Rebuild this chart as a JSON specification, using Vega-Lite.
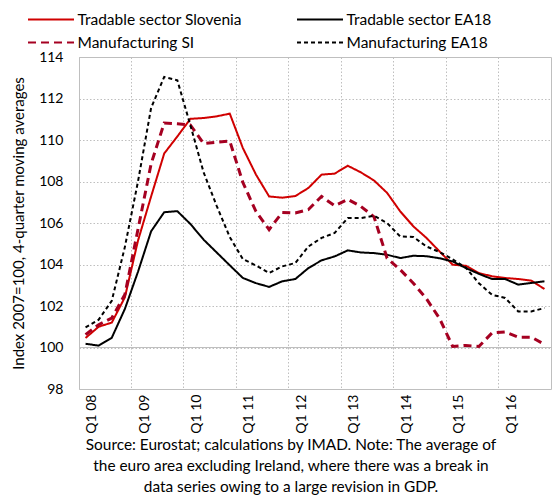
{
  "$schema": "https://vega.github.io/schema/vega-lite/v6.json",
  "width": 472,
  "height": 332,
  "autosize": {"type": "none"},
  "padding": {"left": 79, "top": 57, "right": 1, "bottom": 114},
  "config": {
    "font": "Lato",
    "view": {"stroke": "#bfbfbf", "strokeWidth": 1}
  },
  "title": {
    "text": [
      "Source: Eurostat; calculations by IMAD. Note: The average of",
      "the euro area excluding Ireland, where there was a break in",
      "data series owing to a large revision in GDP."
    ],
    "orient": "bottom",
    "anchor": "middle",
    "dx": -24,
    "offset": 5,
    "font": "Lato",
    "fontSize": 15.4,
    "fontWeight": "normal",
    "lineHeight": 21,
    "color": "#000000"
  },
  "data": {
    "values": [
      {"quarter": "Q1 08", "Tradable sector Slovenia": 100.46, "Tradable sector EA18": 100.18, "Manufacturing SI": 100.62, "Manufacturing EA18": 100.97},
      {"quarter": "Q2 08", "Tradable sector Slovenia": 101.0, "Tradable sector EA18": 100.09, "Manufacturing SI": 101.1, "Manufacturing EA18": 101.34},
      {"quarter": "Q3 08", "Tradable sector Slovenia": 101.2, "Tradable sector EA18": 100.47, "Manufacturing SI": 101.42, "Manufacturing EA18": 102.25},
      {"quarter": "Q4 08", "Tradable sector Slovenia": 102.42, "Tradable sector EA18": 101.86, "Manufacturing SI": 102.55, "Manufacturing EA18": 104.85},
      {"quarter": "Q1 09", "Tradable sector Slovenia": 105.15, "Tradable sector EA18": 103.65, "Manufacturing SI": 105.7, "Manufacturing EA18": 108.0},
      {"quarter": "Q2 09", "Tradable sector Slovenia": 107.28, "Tradable sector EA18": 105.6, "Manufacturing SI": 108.85, "Manufacturing EA18": 111.55},
      {"quarter": "Q3 09", "Tradable sector Slovenia": 109.35, "Tradable sector EA18": 106.52, "Manufacturing SI": 110.82, "Manufacturing EA18": 113.04},
      {"quarter": "Q4 09", "Tradable sector Slovenia": 110.17, "Tradable sector EA18": 106.57, "Manufacturing SI": 110.78, "Manufacturing EA18": 112.88},
      {"quarter": "Q1 10", "Tradable sector Slovenia": 111.02, "Tradable sector EA18": 105.95, "Manufacturing SI": 110.72, "Manufacturing EA18": 110.7},
      {"quarter": "Q2 10", "Tradable sector Slovenia": 111.06, "Tradable sector EA18": 105.2, "Manufacturing SI": 109.83, "Manufacturing EA18": 108.45},
      {"quarter": "Q3 10", "Tradable sector Slovenia": 111.14, "Tradable sector EA18": 104.58, "Manufacturing SI": 109.89, "Manufacturing EA18": 106.83},
      {"quarter": "Q4 10", "Tradable sector Slovenia": 111.27, "Tradable sector EA18": 103.96, "Manufacturing SI": 109.95, "Manufacturing EA18": 105.32},
      {"quarter": "Q1 11", "Tradable sector Slovenia": 109.61, "Tradable sector EA18": 103.35, "Manufacturing SI": 107.95, "Manufacturing EA18": 104.26},
      {"quarter": "Q2 11", "Tradable sector Slovenia": 108.33, "Tradable sector EA18": 103.1, "Manufacturing SI": 106.55, "Manufacturing EA18": 103.95},
      {"quarter": "Q3 11", "Tradable sector Slovenia": 107.28, "Tradable sector EA18": 102.92, "Manufacturing SI": 105.68, "Manufacturing EA18": 103.59},
      {"quarter": "Q4 11", "Tradable sector Slovenia": 107.22, "Tradable sector EA18": 103.19, "Manufacturing SI": 106.51, "Manufacturing EA18": 103.91},
      {"quarter": "Q1 12", "Tradable sector Slovenia": 107.3, "Tradable sector EA18": 103.3, "Manufacturing SI": 106.48, "Manufacturing EA18": 104.07},
      {"quarter": "Q2 12", "Tradable sector Slovenia": 107.69, "Tradable sector EA18": 103.83, "Manufacturing SI": 106.65, "Manufacturing EA18": 104.87},
      {"quarter": "Q3 12", "Tradable sector Slovenia": 108.33, "Tradable sector EA18": 104.2, "Manufacturing SI": 107.28, "Manufacturing EA18": 105.28},
      {"quarter": "Q4 12", "Tradable sector Slovenia": 108.38, "Tradable sector EA18": 104.39, "Manufacturing SI": 106.83, "Manufacturing EA18": 105.52},
      {"quarter": "Q1 13", "Tradable sector Slovenia": 108.76, "Tradable sector EA18": 104.68, "Manufacturing SI": 107.14, "Manufacturing EA18": 106.24},
      {"quarter": "Q2 13", "Tradable sector Slovenia": 108.44, "Tradable sector EA18": 104.58, "Manufacturing SI": 106.8, "Manufacturing EA18": 106.24},
      {"quarter": "Q3 13", "Tradable sector Slovenia": 108.05, "Tradable sector EA18": 104.55, "Manufacturing SI": 106.3, "Manufacturing EA18": 106.35},
      {"quarter": "Q4 13", "Tradable sector Slovenia": 107.45, "Tradable sector EA18": 104.47, "Manufacturing SI": 104.3, "Manufacturing EA18": 106.0},
      {"quarter": "Q1 14", "Tradable sector Slovenia": 106.56, "Tradable sector EA18": 104.31, "Manufacturing SI": 103.75, "Manufacturing EA18": 105.35},
      {"quarter": "Q2 14", "Tradable sector Slovenia": 105.84, "Tradable sector EA18": 104.42, "Manufacturing SI": 103.1, "Manufacturing EA18": 105.33},
      {"quarter": "Q3 14", "Tradable sector Slovenia": 105.28, "Tradable sector EA18": 104.4, "Manufacturing SI": 102.35, "Manufacturing EA18": 104.87},
      {"quarter": "Q4 14", "Tradable sector Slovenia": 104.63, "Tradable sector EA18": 104.3, "Manufacturing SI": 101.4, "Manufacturing EA18": 104.6},
      {"quarter": "Q1 15", "Tradable sector Slovenia": 103.99, "Tradable sector EA18": 104.15, "Manufacturing SI": 100.05, "Manufacturing EA18": 104.25},
      {"quarter": "Q2 15", "Tradable sector Slovenia": 103.94, "Tradable sector EA18": 103.83, "Manufacturing SI": 100.1, "Manufacturing EA18": 103.85},
      {"quarter": "Q3 15", "Tradable sector Slovenia": 103.59, "Tradable sector EA18": 103.55, "Manufacturing SI": 100.05, "Manufacturing EA18": 103.1},
      {"quarter": "Q4 15", "Tradable sector Slovenia": 103.43, "Tradable sector EA18": 103.3, "Manufacturing SI": 100.7, "Manufacturing EA18": 102.54},
      {"quarter": "Q1 16", "Tradable sector Slovenia": 103.35, "Tradable sector EA18": 103.3, "Manufacturing SI": 100.75, "Manufacturing EA18": 102.39},
      {"quarter": "Q2 16", "Tradable sector Slovenia": 103.3, "Tradable sector EA18": 103.03, "Manufacturing SI": 100.5, "Manufacturing EA18": 101.74},
      {"quarter": "Q3 16", "Tradable sector Slovenia": 103.22, "Tradable sector EA18": 103.11, "Manufacturing SI": 100.5, "Manufacturing EA18": 101.74},
      {"quarter": "Q4 16", "Tradable sector Slovenia": 102.82, "Tradable sector EA18": 103.19, "Manufacturing SI": 100.15, "Manufacturing EA18": 101.9}
    ]
  },
  "transform": [
    {"fold": ["Tradable sector Slovenia", "Tradable sector EA18", "Manufacturing SI", "Manufacturing EA18"], "as": ["series", "value"]}
  ],
  "layer": [
    {
      "mark": {"type": "rule", "color": "#bfbfbf", "strokeWidth": 1.2},
      "encoding": {"y": {"datum": 100, "type": "quantitative"}}
    },
    {
      "mark": {"type": "line", "strokeJoin": "miter"},
      "encoding": {
        "x": {
          "field": "quarter",
          "type": "ordinal",
          "sort": null,
          "scale": {"type": "band", "paddingInner": 0, "paddingOuter": 0},
          "axis": {
            "title": null,
            "values": ["Q1 08", "Q1 09", "Q1 10", "Q1 11", "Q1 12", "Q1 13", "Q1 14", "Q1 15", "Q1 16"],
            "bandPosition": 0,
            "labelOffset": 6.5,
            "labelAngle": -90,
            "labelFontSize": 14,
            "labelColor": "#000000",
            "labelPadding": 5,
            "ticks": false,
            "domain": false,
            "grid": true,
            "gridColor": "#bfbfbf",
            "gridDash": [1.5, 2],
            "gridWidth": 1
          }
        },
        "y": {
          "field": "value",
          "type": "quantitative",
          "scale": {"domain": [98, 114], "nice": false, "zero": false},
          "axis": {
            "title": "Index 2007=100, 4-quarter moving averages",
            "titleFontSize": 15,
            "titleFontWeight": "normal",
            "titleColor": "#000000",
            "titlePadding": 12,
            "values": [98, 100, 102, 104, 106, 108, 110, 112, 114],
            "labelFontSize": 14,
            "labelColor": "#000000",
            "labelPadding": 16,
            "ticks": false,
            "domain": false,
            "grid": true,
            "gridColor": "#bfbfbf",
            "gridDash": [1.5, 2],
            "gridWidth": 1
          }
        },
        "color": {
          "field": "series",
          "type": "nominal",
          "scale": {
            "domain": ["Tradable sector Slovenia", "Manufacturing SI", "Tradable sector EA18", "Manufacturing EA18"],
            "range": ["#d00000", "#a50021", "#000000", "#000000"]
          },
          "legend": {
            "title": null,
            "orient": "none",
            "legendX": -40.5,
            "legendY": -50,
            "columns": 2,
            "columnPadding": 50,
            "rowPadding": 2,
            "padding": 0,
            "symbolType": "M-2,0L2,0",
            "symbolSize": 529,
            "symbolStrokeWidth": 2,
            "labelFontSize": 15.5,
            "labelColor": "#000000",
            "labelOffset": 14,
            "labelLimit": 300
          }
        },
        "strokeDash": {
          "field": "series",
          "type": "nominal",
          "scale": {
            "domain": ["Tradable sector Slovenia", "Manufacturing SI", "Tradable sector EA18", "Manufacturing EA18"],
            "range": [[1, 0], [8, 5], [1, 0], [4, 3]]
          }
        },
        "strokeWidth": {
          "condition": {"test": "datum.series === 'Manufacturing SI'", "value": 3},
          "value": 2
        }
      }
    }
  ]
}
